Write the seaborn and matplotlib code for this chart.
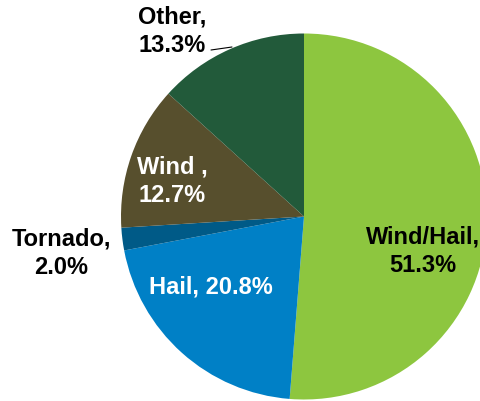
import matplotlib
matplotlib.use("Agg")
import matplotlib.pyplot as plt
import seaborn as sns

categories = ["Wind/Hail", "Hail", "Tornado", "Wind", "Other"]
values = [51.3, 20.8, 2.0, 12.7, 13.3]
label_texts = ["Wind/Hail,\n51.3%", "Hail, 20.8%", "Tornado,\n2.0%", "Wind ,\n12.7%", "Other,\n13.3%"]
colors = ["#8DC63F", "#0080C6", "#005A87", "#574F2D", "#225A3A"]
label_colors = ["black", "white", "black", "white", "black"]

sns.set_style("white")
plt.rcParams['font.family'] = ['Liberation Sans', 'DejaVu Sans']

W, H = 481, 402
CX, CY, R = 304, 217.5, 183.0

fig = plt.figure(figsize=(W / 100, H / 100), dpi=100)
ax = fig.add_axes([0, 0, 1, 1])
ax.pie(values, colors=colors, startangle=90, counterclock=False, radius=1.0,
       wedgeprops=dict(linewidth=0))
ax.set_xlim(-CX / R, (W - CX) / R)
ax.set_ylim((CY - H) / R, CY / R)
ax.set_aspect("auto")
ax.axis("off")

def d(px, py):
    return ((px - CX) / R, (CY - py) / R)

label_pos = [(423, 251), (211, 287), (61, 253), (172, 181), (172, 31)]
for txt, col, (px, py) in zip(label_texts, label_colors, label_pos):
    x, y = d(px, py)
    ax.text(x, y, txt, color=col, fontsize=17, fontweight="bold",
            ha="center", va="center", linespacing=1.3)

# leader line for "Other"
x0, y0 = d(211, 51)
x1, y1 = d(232, 48)
ax.plot([x0, x1], [y0, y1], color="black", lw=0.8)

fig.savefig("out.png", dpi=100)
